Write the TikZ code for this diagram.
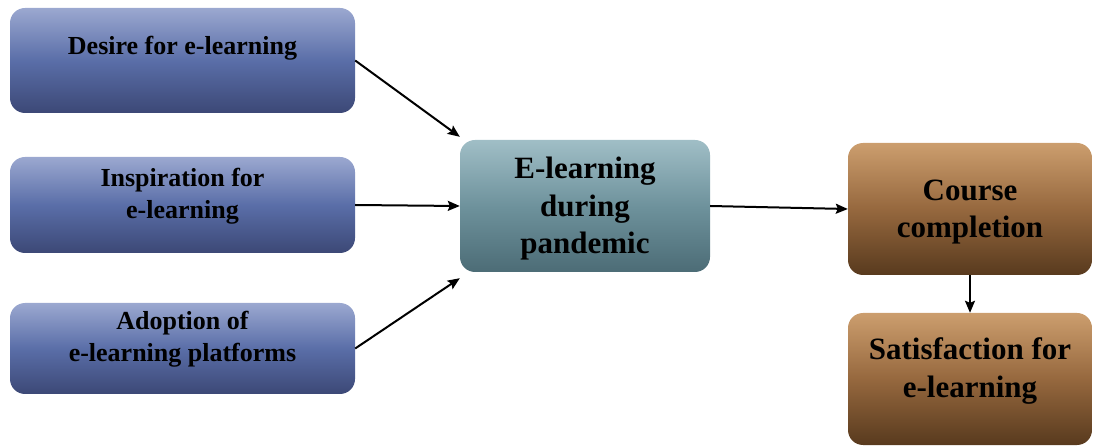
\documentclass[tikz,border=0pt]{standalone}
\usepackage{fontspec}
\setmainfont{Liberation Serif}
\usetikzlibrary{arrows.meta}
\definecolor{bluetop}{RGB}{155,168,208}
\definecolor{bluemid}{RGB}{90,110,168}
\definecolor{bluebot}{RGB}{60,72,118}
\definecolor{tealtop}{RGB}{160,190,198}
\definecolor{tealmid}{RGB}{110,146,156}
\definecolor{tealbot}{RGB}{76,108,118}
\definecolor{browntop}{RGB}{204,158,110}
\definecolor{brownmid}{RGB}{150,104,62}
\definecolor{brownbot}{RGB}{88,58,30}
\begin{document}
\begin{tikzpicture}[x=1pt,y=-1pt,line join=round,
	box/.style={rounded corners=15pt,inner sep=0pt},
	bluebox/.style={box,top color=bluetop,bottom color=bluebot,middle color=bluemid,minimum width=345pt},
	tealbox/.style={box,top color=tealtop,bottom color=tealbot,middle color=tealmid},
	brownbox/.style={box,top color=browntop,bottom color=brownbot,middle color=brownmid,minimum width=244pt,minimum height=132pt},
	small/.style={font=\fontsize{26}{31.5}\selectfont\bfseries,align=center},
	big/.style={font=\fontsize{31}{37.5}\selectfont\bfseries,align=center},
	arr/.style={-{Stealth[length=12pt,width=10pt,inset=2pt]},line width=2pt}]
	\useasboundingbox (0,0) rectangle (1093,446);
	% left column
	\node[bluebox,minimum height=105pt] (desire) at (182.5,60.5) {};
	\node[bluebox,minimum height=96pt] (inspire) at (182.5,205) {};
	\node[bluebox,minimum height=91pt] (adopt) at (182.5,348.5) {};
	\node[small,anchor=base] (desiret) at (182.5,55) {Desire for e-learning};
	\node[small] (inspiret) at (182.5,196) {Inspiration for\\e-learning};
	\node[small] (adoptt) at (182.5,339) {Adoption of\\e-learning platforms};
	% middle
	\node[tealbox,minimum width=250pt,minimum height=132pt] (elearn) at (585,206) {};
	\node[big] (elearnt) at (585,209) {E-learning\\during\\pandemic};
	% right column
	\node[brownbox] (course) at (970,209) {};
	\node[brownbox] (satis) at (970,379) {};
	\node[big] (courset) at (970,212) {Course\\completion};
	\node[big] (satist) at (970,371) {Satisfaction for\\e-learning};
	% arrows
	\draw[arr] (desire.east) -- ([yshift=3pt]elearn.north west);
	\draw[arr] (inspire.east) -- (elearn.west);
	\draw[arr] (adopt.east) -- ([yshift=-6pt]elearn.south west);
	\draw[arr] (elearn.east) -- (course.west);
	\draw[arr] (course.south) -- (satis.north);
\end{tikzpicture}
\end{document}
